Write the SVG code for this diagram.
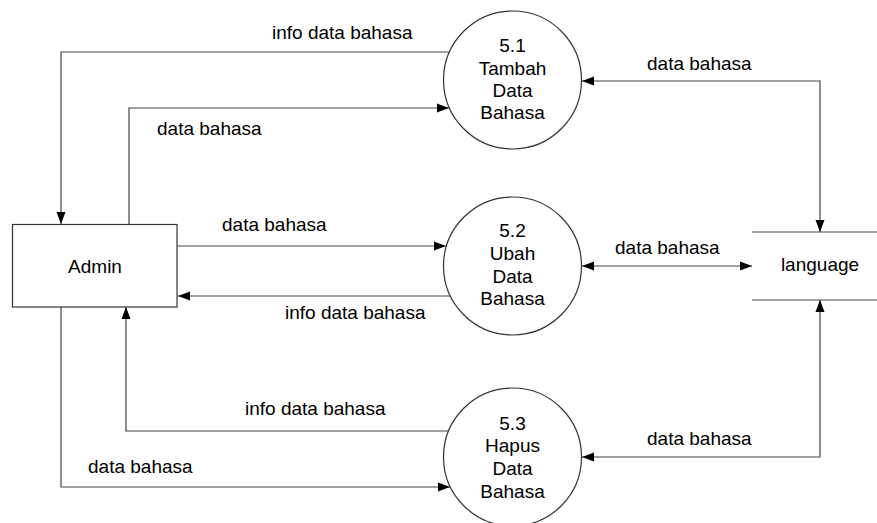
<svg xmlns="http://www.w3.org/2000/svg" width="877" height="523" viewBox="0 0 877 523">
<style>
text{font-family:"Liberation Sans",Arial,sans-serif;font-size:19px;fill:#000}
.c{text-anchor:middle}
.n{fill:#fff;stroke:#333;stroke-width:1.2}
.l{fill:none;stroke:#444;stroke-width:1.2}
</style>
<defs>
<marker id="a" markerWidth="13" markerHeight="10" refX="12" refY="5" orient="auto" markerUnits="userSpaceOnUse">
<path d="M0,0.5 L12,5 L0,9.5 Z" fill="#000"/>
</marker>
<marker id="s" markerWidth="13" markerHeight="10" refX="0" refY="5" orient="auto" markerUnits="userSpaceOnUse">
<path d="M12,0.5 L0,5 L12,9.5 Z" fill="#000"/>
</marker>
</defs>
<rect width="877" height="523" fill="#fff"/>
<g id="connectors">
<path class="l" d="M449,52 H61 V224" marker-end="url(#a)"/>
<path class="l" d="M129,224 V108 H449" marker-end="url(#a)"/>
<path class="l" d="M177,246 H446" marker-end="url(#a)"/>
<path class="l" d="M450,296 H178" marker-end="url(#a)"/>
<path class="l" d="M449,431 H126 V307" marker-end="url(#a)"/>
<path class="l" d="M61,307 V487 H450" marker-end="url(#a)"/>
<path class="l" d="M582,81 H820 V232" marker-start="url(#s)" marker-end="url(#a)"/>
<path class="l" d="M582,266 H752" marker-start="url(#s)" marker-end="url(#a)"/>
<path class="l" d="M582,457 H820 V300" marker-start="url(#s)" marker-end="url(#a)"/>
<text x="272" y="39">info data bahasa</text>
<text x="157" y="135">data bahasa</text>
<text x="222" y="231">data bahasa</text>
<text x="285" y="319">info data bahasa</text>
<text x="245" y="415">info data bahasa</text>
<text x="88" y="473">data bahasa</text>
<text x="647" y="70">data bahasa</text>
<text x="615" y="254">data bahasa</text>
<text x="647" y="445">data bahasa</text>
</g>
<g id="admin">
<rect class="n" x="12.5" y="224.5" width="164.5" height="82.5"/>
<text class="c" x="95" y="273">Admin</text>
</g>
<g id="p51">
<circle class="n" cx="512.5" cy="80" r="69"/>
<text class="c" x="512.5" y="52">5.1</text>
<text class="c" x="512.5" y="75">Tambah</text>
<text class="c" x="512.5" y="97">Data</text>
<text class="c" x="512.5" y="119">Bahasa</text>
</g>
<g id="p52">
<circle class="n" cx="512.5" cy="266" r="69"/>
<text class="c" x="512.5" y="237">5.2</text>
<text class="c" x="512.5" y="260">Ubah</text>
<text class="c" x="512.5" y="283">Data</text>
<text class="c" x="512.5" y="305">Bahasa</text>
</g>
<g id="p53">
<circle class="n" cx="512.5" cy="457" r="69"/>
<text class="c" x="512.5" y="430">5.3</text>
<text class="c" x="512.5" y="452">Hapus</text>
<text class="c" x="512.5" y="475">Data</text>
<text class="c" x="512.5" y="498">Bahasa</text>
</g>
<g id="language">
<path class="l" d="M752,232 H877 M752,300 H877"/>
<text class="c" x="820" y="271">language</text>
</g>
</svg>
